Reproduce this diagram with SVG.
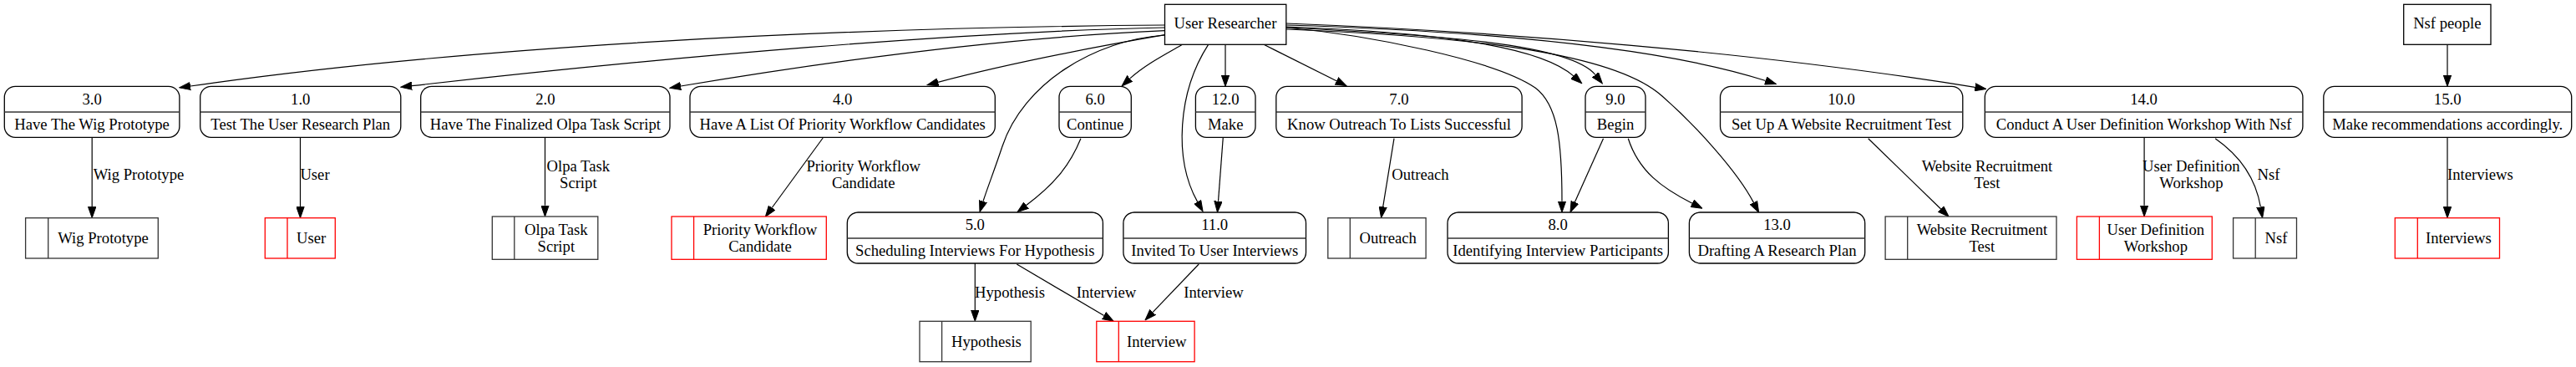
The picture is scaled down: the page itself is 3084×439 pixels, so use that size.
<svg xmlns="http://www.w3.org/2000/svg" width="3084" height="439" viewBox="0 0 3084 439">
<style>
text{font-family:"Liberation Serif","Times New Roman",serif;font-size:18.67px;text-anchor:middle;fill:#000}
.ent{fill:#fff;stroke:#000;stroke-width:1.3}
.proc{fill:#fff;stroke:#000;stroke-width:1.3}
.div{stroke:#333;stroke-width:1.6}
.store{fill:#fff;stroke:#333;stroke-width:1.3}
.store.red{stroke:#ff0000}
.e{fill:none;stroke:#000;stroke-width:1.2;marker-end:url(#ah)}
</style>
<defs>
<marker id="ah" markerWidth="14" markerHeight="10" refX="0" refY="0" orient="auto" markerUnits="userSpaceOnUse" viewBox="0 -5 14 10">
<path d="M0,-4.67 L13.33,0 L0,4.67 z" fill="#000" stroke="#000" stroke-width="1"/>
</marker>
</defs>
<rect width="3084" height="439" fill="#fff"/>

<g id="connectors">
<path class="e" d="M1394.5,30 C1000,33 560,55 228,103"/>
<path class="e" d="M1394.5,33 C1150,38 800,68 493,102.7"/>
<path class="e" d="M1394.5,36.7 C1200,45 1000,72 815,103"/>
<path class="e" d="M1394.5,41.7 C1300,58 1200,78 1123,98.3"/>
<path class="e" d="M1394.5,42 C1310,48 1225,100 1200,175 C1190,205 1182,225 1177,240.8"/>
<path class="e" d="M1415.5,53.3 C1395,65 1370,78 1352.8,93.9"/>
<path class="e" d="M1467,53.3 L1467,90"/>
<path class="e" d="M1446.6,53.3 C1410,110 1405,190 1433.6,241.4"/>
<path class="e" d="M1464.3,164.3 L1458.5,240.7"/>
<path class="e" d="M1513.1,53.3 L1600,96.7"/>
<path class="e" d="M1539.8,33 C1640,42 1790,72 1838,105 C1865,125 1870,170 1870,240.7"/>
<path class="e" d="M1539.8,32 C1700,38 1840,52 1883.8,90.9"/>
<path class="e" d="M1539.8,33 C1720,42 1880,52 1910,89.5"/>
<path class="e" d="M1539.8,35 C1800,45 1940,70 1990,115 C2030,150 2080,205 2099.5,242.4"/>
<path class="e" d="M1539.8,30 C1800,38 2000,60 2113.7,96.5"/>
<path class="e" d="M1539.8,28 C1800,38 2100,62 2364.4,104.3"/>
<path class="e" d="M1919.5,165.7 L1885.4,241.8"/>
<path class="e" d="M1949.3,165.7 C1962,205 1990,225 2026,243.2"/>
<path class="e" d="M1669,165.7 L1655.7,247.3"/>
<path class="e" d="M985.2,165 L924.2,248.5"/>
<path class="e" d="M1293.9,165.7 C1280,200 1260,222 1228.7,245.5"/>
<path class="e" d="M110.2,164.3 L110.2,247.4"/>
<path class="e" d="M359.5,164.3 L359.5,247.4"/>
<path class="e" d="M652.5,164.3 L652.5,245.7"/>
<path class="e" d="M1167.3,315 L1167.3,371"/>
<path class="e" d="M1217.3,316 L1321.7,377.5"/>
<path class="e" d="M1435.2,316 L1380.2,373.3"/>
<path class="e" d="M2236.7,165.7 L2323.6,250"/>
<path class="e" d="M2567.1,164.3 L2567.1,245.7"/>
<path class="e" d="M2652.2,165.7 C2680,185 2700,210 2706.4,247.6"/>
<path class="e" d="M2930,53.3 L2930,90"/>
<path class="e" d="M2930,164.3 L2930,247.4"/>
<text x="166" y="214.5">Wig Prototype</text>
<text x="377" y="214.5">User</text>
<text x="692.3" y="204.5">Olpa Task</text>
<text x="692.3" y="224.5">Script</text>
<text x="1033.7" y="204.5">Priority Workflow</text>
<text x="1033.7" y="224.5">Candidate</text>
<text x="1209" y="355.5">Hypothesis</text>
<text x="1324.5" y="355.5">Interview</text>
<text x="1453" y="355.5">Interview</text>
<text x="1700.5" y="214.5">Outreach</text>
<text x="2379" y="204.5">Website Recruitment</text>
<text x="2379" y="224.5">Test</text>
<text x="2623.4" y="204.5">User Definition</text>
<text x="2623.4" y="224.5">Workshop</text>
<text x="2716" y="214.5">Nsf</text>
<text x="2969.4" y="214.5">Interviews</text>
</g>

<g id="user-researcher"><rect class="ent" x="1394.5" y="5.3" width="145.3" height="48"/><text x="1467" y="34.3">User Researcher</text></g>
<g id="nsf-people"><rect class="ent" x="2877.7" y="5.3" width="104.3" height="48"/><text x="2929.8" y="34.3">Nsf people</text></g>

<g id="p3"><rect class="proc" x="5.3" y="103.3" width="209.6" height="61" rx="13"/><line class="div" x1="5.3" y1="134" x2="214.9" y2="134"/><text x="110.1" y="124.5">3.0</text><text x="110.1" y="154.5">Have The Wig Prototype</text></g>
<g id="p1"><rect class="proc" x="239.7" y="103.3" width="240.1" height="61" rx="13"/><line class="div" x1="239.7" y1="134" x2="479.8" y2="134"/><text x="359.75" y="124.5">1.0</text><text x="359.75" y="154.5">Test The User Research Plan</text></g>
<g id="p2"><rect class="proc" x="503.7" y="103.3" width="298.3" height="61" rx="13"/><line class="div" x1="503.7" y1="134" x2="802" y2="134"/><text x="652.85" y="124.5">2.0</text><text x="652.85" y="154.5">Have The Finalized Olpa Task Script</text></g>
<g id="p4"><rect class="proc" x="826" y="103.3" width="365.3" height="61" rx="13"/><line class="div" x1="826" y1="134" x2="1191.3" y2="134"/><text x="1008.7" y="124.5">4.0</text><text x="1008.7" y="154.5">Have A List Of Priority Workflow Candidates</text></g>
<g id="p6"><rect class="proc" x="1268" y="103.3" width="86.3" height="61" rx="13"/><line class="div" x1="1268" y1="134" x2="1354.3" y2="134"/><text x="1311.2" y="124.5">6.0</text><text x="1311.2" y="154.5">Continue</text></g>
<g id="p12"><rect class="proc" x="1431.4" y="103.3" width="71.6" height="61" rx="13"/><line class="div" x1="1431.4" y1="134" x2="1503" y2="134"/><text x="1467.2" y="124.5">12.0</text><text x="1467.2" y="154.5">Make</text></g>
<g id="p7"><rect class="proc" x="1527.8" y="103.3" width="294.3" height="61" rx="13"/><line class="div" x1="1527.8" y1="134" x2="1822.1" y2="134"/><text x="1675" y="124.5">7.0</text><text x="1675" y="154.5">Know Outreach To Lists Successful</text></g>
<g id="p9"><rect class="proc" x="1898" y="103.3" width="72" height="61" rx="13"/><line class="div" x1="1898" y1="134" x2="1970" y2="134"/><text x="1934" y="124.5">9.0</text><text x="1934" y="154.5">Begin</text></g>
<g id="p10"><rect class="proc" x="2059.5" y="103.3" width="290.3" height="61" rx="13"/><line class="div" x1="2059.5" y1="134" x2="2349.8" y2="134"/><text x="2204.6" y="124.5">10.0</text><text x="2204.6" y="154.5">Set Up A Website Recruitment Test</text></g>
<g id="p14"><rect class="proc" x="2376.3" y="103.3" width="380.6" height="61" rx="13"/><line class="div" x1="2376.3" y1="134" x2="2756.9" y2="134"/><text x="2566.6" y="124.5">14.0</text><text x="2566.6" y="154.5">Conduct A User Definition Workshop With Nsf</text></g>
<g id="p15"><rect class="proc" x="2781.8" y="103.3" width="296.9" height="61" rx="13"/><line class="div" x1="2781.8" y1="134" x2="3078.7" y2="134"/><text x="2930.2" y="124.5">15.0</text><text x="2930.2" y="154.5">Make recommendations accordingly.</text></g>

<g id="p5"><rect class="proc" x="1014.3" y="254" width="306.1" height="61" rx="13"/><line class="div" x1="1014.3" y1="285" x2="1320.4" y2="285"/><text x="1167.3" y="274.5">5.0</text><text x="1167.3" y="305.5">Scheduling Interviews For Hypothesis</text></g>
<g id="p11"><rect class="proc" x="1344.9" y="254" width="218.6" height="61" rx="13"/><line class="div" x1="1344.9" y1="285" x2="1563.5" y2="285"/><text x="1454.2" y="274.5">11.0</text><text x="1454.2" y="305.5">Invited To User Interviews</text></g>
<g id="p8"><rect class="proc" x="1733" y="254" width="264.4" height="61" rx="13"/><line class="div" x1="1733" y1="285" x2="1997.4" y2="285"/><text x="1865.2" y="274.5">8.0</text><text x="1865.2" y="305.5">Identifying Interview Participants</text></g>
<g id="p13"><rect class="proc" x="2022.4" y="254" width="210.3" height="61" rx="13"/><line class="div" x1="2022.4" y1="285" x2="2232.7" y2="285"/><text x="2127.5" y="274.5">13.0</text><text x="2127.5" y="305.5">Drafting A Research Plan</text></g>

<g id="s-wig"><rect class="store" x="30.6" y="260.7" width="158.7" height="48.3"/><line class="store" x1="57.7" y1="260.7" x2="57.7" y2="309"/><text x="123.5" y="290.5">Wig Prototype</text></g>
<g id="s-user"><rect class="store red" x="317.3" y="260.7" width="84" height="48.3"/><line class="store red" x1="344" y1="260.7" x2="344" y2="309"/><text x="372.7" y="290.5">User</text></g>
<g id="s-olpa"><rect class="store" x="589.3" y="259" width="126.5" height="51.3"/><line class="store" x1="615.8" y1="259" x2="615.8" y2="310.3"/><text x="665.8" y="281">Olpa Task</text><text x="665.8" y="300.5">Script</text></g>
<g id="s-pwc"><rect class="store red" x="804" y="259" width="185.3" height="51.3"/><line class="store red" x1="830.6" y1="259" x2="830.6" y2="310.3"/><text x="910" y="281">Priority Workflow</text><text x="910" y="300.5">Candidate</text></g>
<g id="s-outreach"><rect class="store" x="1589.8" y="260.7" width="117.3" height="48.3"/><line class="store" x1="1616.3" y1="260.7" x2="1616.3" y2="309"/><text x="1661.7" y="290.5">Outreach</text></g>
<g id="s-wrt"><rect class="store" x="2257.1" y="259" width="204.9" height="51.3"/><line class="store" x1="2283.7" y1="259" x2="2283.7" y2="310.3"/><text x="2372.9" y="281">Website Recruitment</text><text x="2372.9" y="300.5">Test</text></g>
<g id="s-udw"><rect class="store red" x="2486.4" y="259" width="161.9" height="51.3"/><line class="store red" x1="2513.4" y1="259" x2="2513.4" y2="310.3"/><text x="2580.9" y="281">User Definition</text><text x="2580.9" y="300.5">Workshop</text></g>
<g id="s-nsf"><rect class="store" x="2673.6" y="260.7" width="75.9" height="48.3"/><line class="store" x1="2700.2" y1="260.7" x2="2700.2" y2="309"/><text x="2724.9" y="290.5">Nsf</text></g>
<g id="s-interviews"><rect class="store red" x="2867.3" y="260.7" width="125.2" height="48.3"/><line class="store red" x1="2894.3" y1="260.7" x2="2894.3" y2="309"/><text x="2943.4" y="290.5">Interviews</text></g>
<g id="s-hypothesis"><rect class="store" x="1101" y="384.3" width="133.2" height="48.4"/><line class="store" x1="1127.6" y1="384.3" x2="1127.6" y2="432.7"/><text x="1180.9" y="414.5">Hypothesis</text></g>
<g id="s-interview"><rect class="store red" x="1312.8" y="384.3" width="117.3" height="48.4"/><line class="store red" x1="1339.3" y1="384.3" x2="1339.3" y2="432.7"/><text x="1384.7" y="414.5">Interview</text></g>
</svg>
